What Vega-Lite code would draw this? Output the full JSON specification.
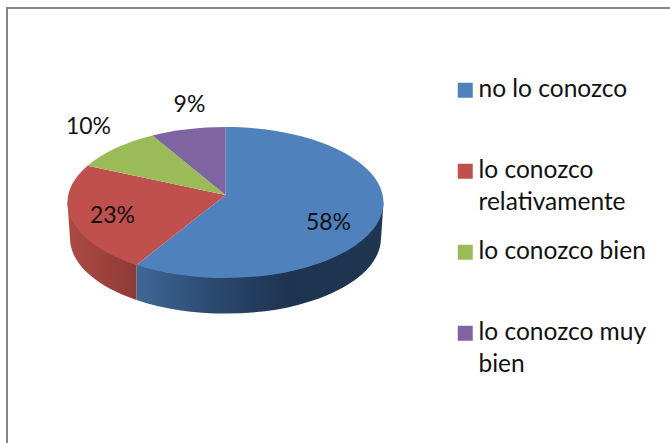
{"$schema":"https://vega.github.io/schema/vega-lite/v6.json","width":665,"height":437,"autosize":"none","padding":{"left":7,"top":8,"right":0,"bottom":0},"background":"white","view":{"stroke":"#868686","strokeWidth":2,"fill":"white"},"config":{"text":{"font":"Lato"}},"data":{"values":[{"categoria":"no lo conozco","valor":0.58},{"categoria":"lo conozco relativamente","valor":0.23},{"categoria":"lo conozco bien","valor":0.10},{"categoria":"lo conozco muy bien","valor":0.09}]},"encoding":{"color":{"field":"categoria","type":"nominal","scale":{"domain":["no lo conozco","lo conozco relativamente","lo conozco bien","lo conozco muy bien"],"range":["#4f81bd","#c0504d","#9bbb59","#8064a2"]},"legend":{"title":null,"orient":"none","legendX":446,"legendY":70,"symbolType":"square","symbolSize":225,"symbolOpacity":1,"symbolStrokeWidth":0,"labelFont":"Lato","labelFontSize":24.5,"labelColor":"#111111","labelLimit":300,"labelOffset":1,"rowPadding":24,"encoding":{"labels":{"lineHeight":{"value":32}}},"labelExpr":"datum.label==='lo conozco relativamente'?['lo conozco','relativamente']:datum.label==='lo conozco muy bien'?['lo conozco muy','bien']:[datum.label,' ']"}}},"layer":[{"transform":[{"filter":"datum.categoria==='no lo conozco'"}],"mark":{"type":"point","filled":true,"opacity":1,"size":4,"shape":"M44,-24 L41.5,12 A155.5,75.5 0 0 1 -203,73.5 L-203,38.4 Z","fill":{"gradient":"linear","x1":0,"x2":1,"y1":0,"y2":0,"stops":[{"offset":0,"color":"#3f6797"},{"offset":0.3,"color":"#2c4a70"},{"offset":0.62,"color":"#1e3350"},{"offset":1,"color":"#1f3651"}]}},"encoding":{"color":{"value":null}}},{"transform":[{"filter":"datum.categoria==='lo conozco relativamente'"}],"mark":{"type":"point","filled":true,"opacity":1,"size":4,"shape":"M-203,38.4 L-203,73.5 A155.5,75.5 0 0 1 -269.5,12 L-272,-24 Z","fill":{"gradient":"linear","x1":0,"x2":1,"y1":0,"y2":0,"stops":[{"offset":0,"color":"#ac4a45"},{"offset":1,"color":"#8e3a36"}]}},"encoding":{"color":{"value":null}}},{"transform":[{"filter":"datum.categoria==='no lo conozco'"}],"mark":{"type":"point","filled":true,"opacity":1,"size":4,"shape":"M-114,-31.5 L-114,-99.5 A158,75.5 0 1 1 -203,38.4 Z"}},{"transform":[{"filter":"datum.categoria==='lo conozco relativamente'"}],"mark":{"type":"point","filled":true,"opacity":1,"size":4,"shape":"M-114,-31.5 L-203,38.4 A158,75.5 0 0 1 -252,-60.8 Z"}},{"transform":[{"filter":"datum.categoria==='lo conozco bien'"}],"mark":{"type":"point","filled":true,"opacity":1,"size":4,"shape":"M-114,-31.5 L-252,-60.8 A158,75.5 0 0 1 -187,-91 Z"}},{"transform":[{"filter":"datum.categoria==='lo conozco muy bien'"}],"mark":{"type":"point","filled":true,"opacity":1,"size":4,"shape":"M-114,-31.5 L-187,-91 A158,75.5 0 0 1 -114,-99.5 Z"}},{"transform":[{"filter":"datum.categoria==='no lo conozco'"}],"mark":{"type":"text","fontSize":23,"dx":-11,"dy":-3.5},"encoding":{"color":{"value":"#111111"},"text":{"field":"valor","type":"quantitative","format":".0%"}}},{"transform":[{"filter":"datum.categoria==='lo conozco relativamente'"}],"mark":{"type":"text","fontSize":23,"dx":-227,"dy":-10.5},"encoding":{"color":{"value":"#111111"},"text":{"field":"valor","type":"quantitative","format":".0%"}}},{"transform":[{"filter":"datum.categoria==='lo conozco bien'"}],"mark":{"type":"text","fontSize":23,"dx":-251,"dy":-99.5},"encoding":{"color":{"value":"#111111"},"text":{"field":"valor","type":"quantitative","format":".0%"}}},{"transform":[{"filter":"datum.categoria==='lo conozco muy bien'"}],"mark":{"type":"text","fontSize":23,"dx":-150,"dy":-121.5},"encoding":{"color":{"value":"#111111"},"text":{"field":"valor","type":"quantitative","format":".0%"}}}]}
